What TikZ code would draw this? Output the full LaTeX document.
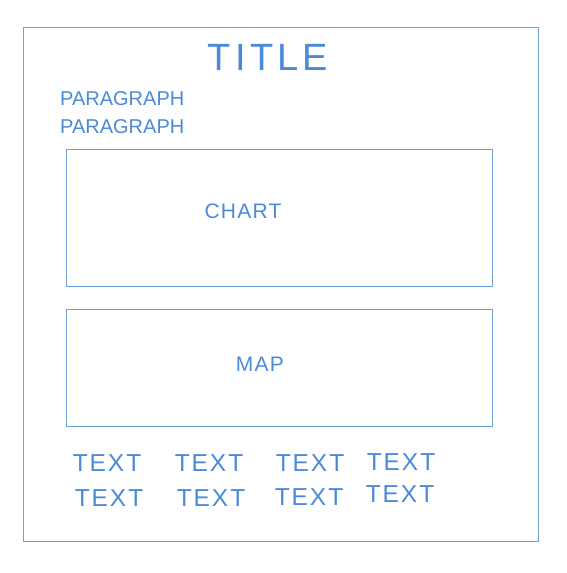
\documentclass[tikz,border=0pt]{standalone}
\usepackage{fontspec}
\setmainfont{Liberation Sans}
\definecolor{pencil}{RGB}{74,138,216}
\definecolor{pencilline}{RGB}{110,160,225}
\tikzset{
  frame/.style={draw=pencilline, line width=1.1pt},
  lbl/.style={text=pencil, inner sep=0pt, font=\fontsize{20}{22}\selectfont},
  boxlbl/.style={text=pencil, inner sep=0pt, font=\addfontfeatures{LetterSpace=6}\fontsize{21}{23}\selectfont},
  txt/.style={text=pencil, inner sep=0pt, font=\addfontfeatures{LetterSpace=8}\fontsize{24.5}{26}\selectfont},
}
\begin{document}
\begin{tikzpicture}[x=1pt,y=-1pt]
\useasboundingbox (0,0) rectangle (567,573);
\node[frame, minimum width=515pt, minimum height=514pt, inner sep=0pt, anchor=north west] (page) at (23,27) {};
\node[text=pencil, inner sep=0pt, font=\addfontfeatures{LetterSpace=11}\fontsize{38}{40}\selectfont] (title) at (268,57) {TITLE};
\node[lbl, anchor=west] (p1) at (60,99) {PARAGRAPH};
\node[lbl, anchor=west] (p2) at (60,127) {PARAGRAPH};
\node[frame, minimum width=426pt, minimum height=137pt, inner sep=0pt, anchor=north west] (chart) at (66,149) {};
\node[boxlbl] (chartlbl) at (243,211) {CHART};
\node[frame, minimum width=426pt, minimum height=117pt, inner sep=0pt, anchor=north west] (map) at (66,309) {};
\node[boxlbl] (maplbl) at (260,364) {MAP};
\node[txt] (t11) at (107,463) {TEXT};
\node[txt] (t12) at (209,463) {TEXT};
\node[txt] (t13) at (310,463) {TEXT};
\node[txt] (t14) at (401,462) {TEXT};
\node[txt] (t21) at (109,498) {TEXT};
\node[txt] (t22) at (211,498) {TEXT};
\node[txt] (t23) at (309,497) {TEXT};
\node[txt] (t24) at (400,494) {TEXT};
\end{tikzpicture}
\end{document}
